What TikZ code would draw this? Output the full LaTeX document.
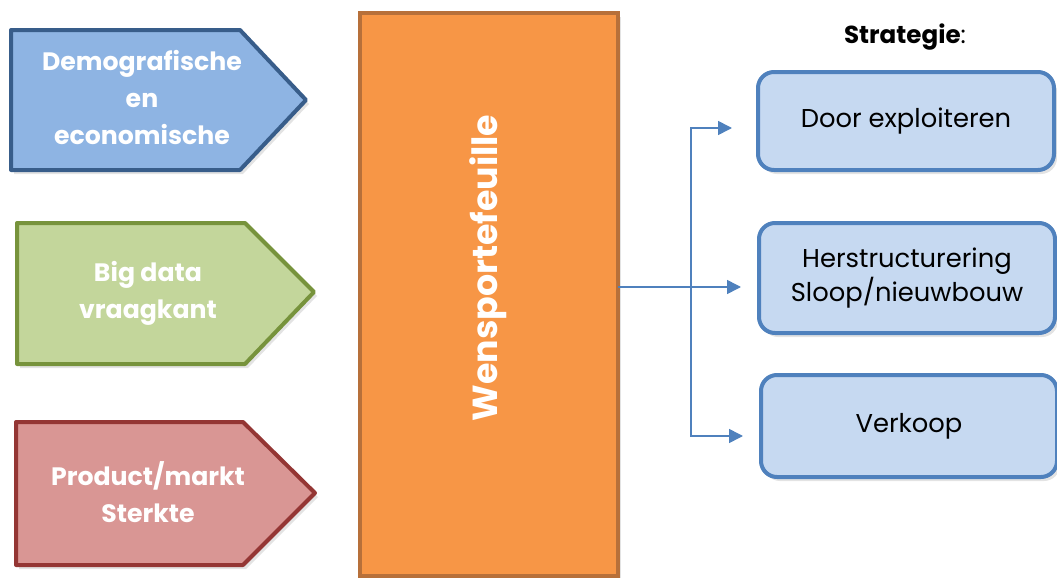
\documentclass[tikz,border=0pt]{standalone}
\usepackage{fontspec}
\setmainfont{Poppins}
\usetikzlibrary{shadows,arrows.meta}
\definecolor{blueline}{HTML}{385D8A}
\definecolor{bluefill}{HTML}{8EB4E3}
\definecolor{greenline}{HTML}{77933C}
\definecolor{greenfill}{HTML}{C3D69B}
\definecolor{redline}{HTML}{943634}
\definecolor{redfill}{HTML}{D99694}
\definecolor{orangeline}{HTML}{B7703A}
\definecolor{orangefill}{HTML}{F79646}
\definecolor{stratline}{HTML}{4F81BD}
\definecolor{stratfill}{HTML}{C6D9F1}
\tikzset{
  soft shadow/.style={drop shadow={opacity=0.22,shadow xshift=1.5pt,shadow yshift=-2pt}},
  input/.style={line width=2pt,line join=round,soft shadow},
  inlabel/.style={text=white,font=\bfseries\fontsize{12.6}{18.5}\selectfont,align=center},
  stratbox/.style={draw=stratline,fill=stratfill,line width=2pt,rounded corners=8pt,
    minimum width=148pt,minimum height=49pt,align=center,soft shadow,
    font=\fontsize{12.9}{15}\selectfont},
  flow/.style={draw=stratline,line width=0.8pt,-{Triangle[length=7pt,width=7pt]}}
}
\begin{document}
\begin{tikzpicture}[x=0.5pt,y=-0.5pt]
\useasboundingbox (0,0) rectangle (1057,578);

% inputs
\draw[input,draw=blueline,fill=bluefill] (11,30) -- (240,30) -- (306,100) -- (240,170) -- (11,170) -- cycle;
\node[inlabel] (demo) at (142,98) {Demografische\\en\\economische};

\draw[input,draw=greenline,fill=greenfill] (17,223) -- (245,223) -- (314,292) -- (245,364) -- (17,364) -- cycle;
\node[inlabel] (data) at (148,293) {Big data\\vraagkant};

\draw[input,draw=redline,fill=redfill] (16,422) -- (243,422) -- (315,493) -- (243,565) -- (16,565) -- cycle;
\node[inlabel] (markt) at (148,492) {Product/markt\\Sterkte};

% portefeuille
\draw[draw=orangeline,fill=orangefill,line width=2pt,soft shadow] (360,13) rectangle (618,576);
\node[rotate=90,text=white,font=\bfseries\fontsize{17.4}{20}\selectfont] (wens) at (488,268) {Wensportefeuille};
\coordinate (out) at (618,287);

% strategie
\node[font=\fontsize{12.3}{14}\selectfont] (kop) at (905,37) {\textbf{Strategie}:};
\node[stratbox] (door) at (906,121) {Door exploiteren};
\node[stratbox,minimum height=55pt] (herst) at (907,278) {Herstructurering\\Sloop/nieuwbouw};
\node[stratbox,minimum height=51pt] (verk) at (909,426) {Verkoop};

\coordinate (split) at (691,287);
\draw[flow] (out) -- ([xshift=-8pt]herst.west |- out);
\draw[flow] (split) |- ([xshift=-12pt]door.west |- 0,128);
\draw[flow] (split) |- ([xshift=-8pt]verk.west |- 0,436);
\end{tikzpicture}
\end{document}
